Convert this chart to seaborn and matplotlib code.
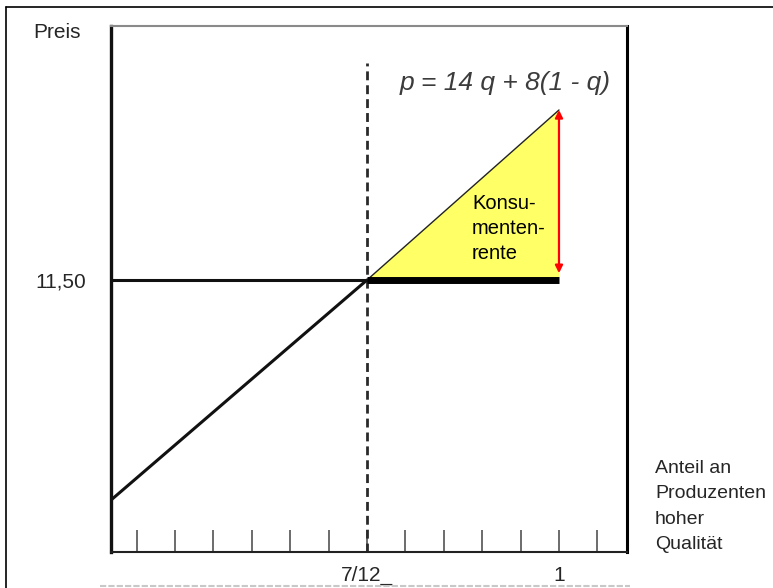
import numpy as np
import pandas as pd
import matplotlib.pyplot as plt
import seaborn as sns
from matplotlib.lines import Line2D

# Daten
q_demand = [0.027, 7 / 12, 1.0]
p_demand = [8.26, 11.5, 14.0]
q_cut = 7 / 12
p_cut = 11.5
q_max = 1.0
p_max = 14.0
tick_pos = [k / 12 for k in range(1, 14)]
tick_labels = ["", "", "", "", "", "", "7/12_", "", "", "", "", "1", ""]
ytick_pos = [11.5]
ytick_labels = ["11,50"]

sns.set_theme(style="white")
plt.rcParams['font.family'] = ['Liberation Sans', 'DejaVu Sans']

fig = plt.figure(figsize=(7.73, 5.88), dpi=100)
fig.patch.set_facecolor('white')
ax = fig.add_axes([110.7 / 773, 36 / 588, (627 - 110.7) / 773, (552 - 26) / 588])
ax.set_facecolor('white')

# Konsumentenrente (gelbes Dreieck)
ax.fill([q_cut, q_max, q_max], [p_cut, p_cut, p_max], color='#FFFF66', zorder=1, lw=0)

# Preisgerade
df = pd.DataFrame({'q': q_demand, 'p': p_demand})
sns.lineplot(data=df.iloc[:2], x='q', y='p', color='#111111', lw=2.2, ax=ax, zorder=3)
sns.lineplot(data=df.iloc[1:], x='q', y='p', color='#222222', lw=1.0, ax=ax, zorder=3)

# Horizontale Linie bei 11,50
ax.hlines(p_cut, 0.027, q_cut, color='#111111', lw=2.2, zorder=3)
ax.hlines(p_cut, q_cut, q_max, color='black', lw=5, zorder=3)

# Gestrichelte Senkrechte bei 7/12
ax.vlines(q_cut, 7.5, 14.69, color='#2a2a2a', lw=2.0, linestyles=(0, (3.2, 1.8)), zorder=2)

# Roter Doppelpfeil
ax.annotate('', xy=(q_max, p_max), xytext=(q_max, 11.6),
            arrowprops=dict(arrowstyle='<|-|>', color='red', lw=1.6,
                            mutation_scale=11, shrinkA=0, shrinkB=0), zorder=4)

ax.text(0.811, 12.26, "Konsu-\nmenten-\nrente", fontsize=14.5, ha='left', va='center',
        linespacing=1.42, color='black', zorder=5)
ax.text(0.883, 14.40, "p = 14 q + 8(1 - q)", fontsize=19, style='italic', ha='center',
        va='center', color='#3c3c3c', zorder=5)

ax.set_xlim(0.027, 1.1476)
ax.set_ylim(7.5, 15.235)
ax.set_xlabel('')
ax.set_ylabel('')

ax.set_xticks(tick_pos)
ax.set_xticklabels(tick_labels, fontsize=15)
ax.tick_params(axis='x', direction='in', length=16, width=1.1, color='#444444', pad=10,
               bottom=True)
ax.set_yticks(ytick_pos)
ax.set_yticklabels(ytick_labels, fontsize=15)
ax.tick_params(axis='y', length=0, pad=18)

for side in ['left', 'bottom', 'right', 'top']:
    ax.spines[side].set_visible(True)
ax.spines['left'].set_linewidth(2.4)
ax.spines['left'].set_color('#111111')
ax.spines['bottom'].set_linewidth(1.5)
ax.spines['bottom'].set_color('#222222')
ax.spines['right'].set_linewidth(2.2)
ax.spines['right'].set_color('black')
ax.spines['top'].set_linewidth(1.5)
ax.spines['top'].set_color('#8a8a8a')

fig.text(33 / 773, 1 - 32 / 588, "Preis", fontsize=15, ha='left', va='center')
fig.text(655 / 773, 1 - 506.5 / 588, "Anteil an\nProduzenten\nhoher\nQualität",
         fontsize=14, ha='left', va='center', linespacing=1.62)

# Rahmen des Bildes (oben und links)
fig.add_artist(Line2D([6 / 773, 1], [1 - 7 / 588, 1 - 7 / 588], transform=fig.transFigure,
                      color='black', lw=1.2))
fig.add_artist(Line2D([6 / 773, 6 / 773], [0, 1 - 7 / 588], transform=fig.transFigure,
                      color='black', lw=1.2))
# schwache Scanlinie unten
fig.add_artist(Line2D([100 / 773, 630 / 773], [1 - 586 / 588, 1 - 586 / 588],
                      transform=fig.transFigure, color='#c8c8c8', lw=1.5,
                      linestyle=(0, (3, 1))))

fig.savefig("out.png", dpi=100)
